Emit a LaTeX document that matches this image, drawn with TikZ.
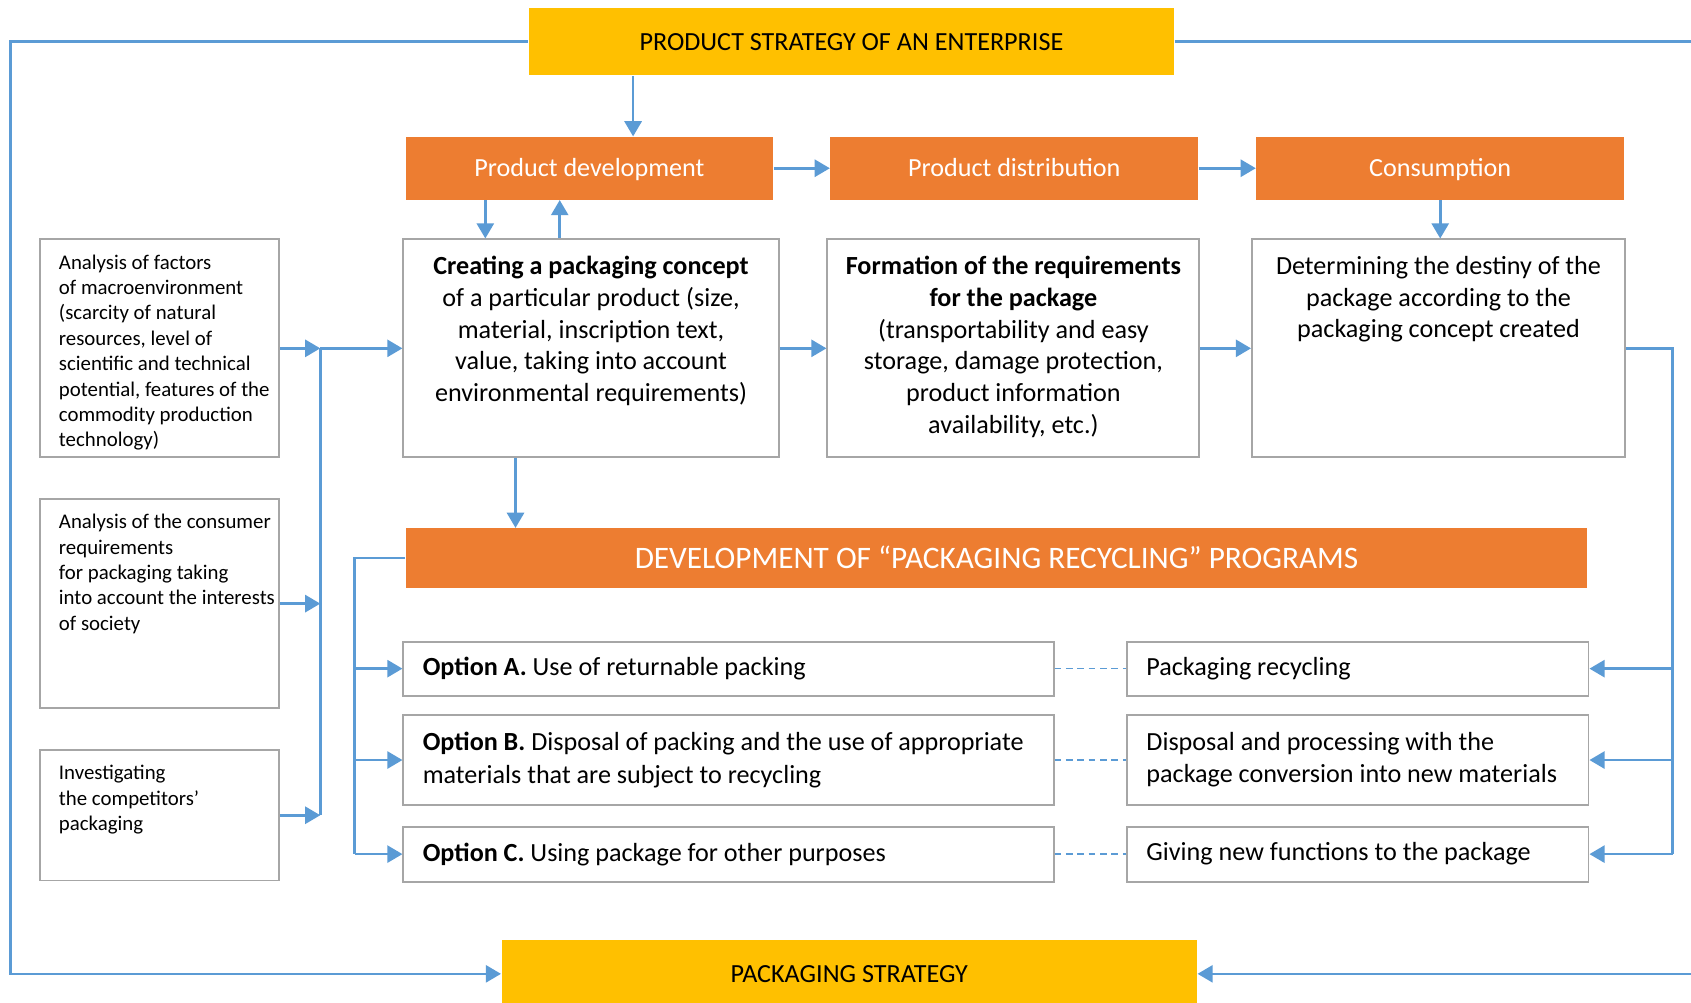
\documentclass[tikz,border=0pt]{standalone}
\usepackage{fontspec}
\setmainfont{Carlito}
\usepackage{xcolor}
\usepackage{tikz}
\usetikzlibrary{arrows.meta}
\usetikzlibrary{positioning}

\definecolor{stratyellow}{HTML}{FFC000}
\definecolor{stageorange}{HTML}{ED7D31}
\definecolor{linkblue}{HTML}{5B9BD5}
\definecolor{boxgray}{HTML}{A6A6A6}

\begin{document}
\frenchspacing
\begin{tikzpicture}[x=0.02cm,y=-0.02cm,-,semithick,node distance=1cm]
 				 \tikzstyle{strat}=[fill=stratyellow, minimum width=11.98cm, minimum height=1.26cm, text height=10.5pt, text depth=1.3pt, font=\fontsize{13.8}{16.75}\selectfont]
 				 \tikzstyle{stage}=[fill=stageorange, text=white, minimum width=6.82cm, minimum height=1.16cm, text height=10.5pt, text depth=1.3pt, font=\fontsize{13.8}{16.75}\selectfont]
 				 \tikzstyle{frame}=[draw=boxgray, line width=1pt, fill=white]
 				 \tikzstyle{bigtxt}=[inner sep=0pt, anchor=north, align=center, font=\fontsize{13.8}{16.75}\selectfont]
 				 \tikzstyle{smalltxt}=[inner sep=0pt, anchor=north west, align=flush left, font=\fontsize{11}{13.4}\selectfont]
 				 \tikzstyle{opt}=[draw=boxgray, line width=1pt, inner xsep=0.36cm, align=flush left, font=\fontsize{13.8}{17}\selectfont]
 				 \tikzstyle{link}=[draw=linkblue, line width=1.4pt]
 				 \tikzstyle{arr}=[link, -{Triangle[width=9pt,length=8pt]}]
 				 \tikzstyle{tie}=[draw=linkblue, line width=0.9pt, dash pattern=on 3.5pt off 2.5pt]

						\fill[white] (0,0) rectangle (1568,930);
						\useasboundingbox (0,0) rectangle (1568,930);

						\node[strat] (strat) at (789.5,38.5) {PRODUCT STRATEGY OF AN ENTERPRISE};
						\node[stage] (dev) at (546.5,156) {Product development};
						\node[stage] (dist) [right=1.04cm of dev] {Product distribution};
						\node[stage] (cons) [right=1.06cm of dist] {Consumption};

						\node[frame, minimum width=6.96cm, minimum height=4.04cm] (concept) at (548,323) {};
						\node[frame, minimum width=6.9cm, minimum height=4.04cm] (req) [right=0.87cm of concept] {};
						\node[frame, minimum width=6.92cm, minimum height=4.04cm] (fate) [right=0.94cm of req] {};
						\node[bigtxt] (concepttxt) at ([yshift=-0.32cm]concept.north) {\textbf{Creating a packaging concept}\\of a particular product (size,\\material, inscription text,\\value, taking into account\\environmental requirements)};
						\node[bigtxt] (reqtxt) at ([yshift=-0.32cm]req.north) {\textbf{Formation of the requirements}\\\textbf{for the package}\\(transportability and easy\\storage, damage protection,\\product information\\availability, etc.)};
						\node[bigtxt] (fatetxt) at ([yshift=-0.32cm]fate.north) {Determining the destiny of the\\package according to the\\packaging concept created};

						\node[frame, minimum width=4.44cm, minimum height=4.04cm] (info1) at (148,323) {};
						\node[frame, minimum width=4.44cm, minimum height=3.88cm] (info2) [below=0.74cm of info1] {};
						\node[frame, minimum width=4.44cm, minimum height=2.42cm] (info3) [below=0.74cm of info2] {};
						\node[smalltxt] (info1txt) at ([xshift=0.36cm,yshift=-0.29cm]info1.north west) {Analysis of factors\\of macroenvironment\\(scarcity of natural\\resources, level of\\scientific and technical\\potential, features of the\\commodity production\\technology)};
						\node[smalltxt] (info2txt) at ([xshift=0.36cm,yshift=-0.29cm]info2.north west) {Analysis of the consumer\\requirements\\for packaging taking\\into account the interests\\of society};
						\node[smalltxt] (info3txt) at ([xshift=0.36cm,yshift=-0.29cm]info3.north west) {Investigating\\the competitors’\\packaging};

						\node[stage, minimum width=21.92cm, minimum height=1.1cm, text height=11.8pt, text depth=1.2pt, font=\fontsize{16.5}{20}\selectfont] (recyc) at (924,517.5) {DEVELOPMENT OF “PACKAGING RECYCLING” PROGRAMS};

						\node[opt, text width=11.34cm, minimum height=1cm] (optA) at (675.5,620) {\textbf{Option A.} Use of returnable packing};
						\node[opt, text width=11.34cm, minimum height=1.68cm] (optB) [below=0.32cm of optA] {\textbf{Option B.} Disposal of packing and the use of appropriate\\materials that are subject to recycling};
						\node[opt, text width=11.34cm, minimum height=1.02cm] (optC) [below=0.36cm of optB] {\textbf{Option C.} Using package for other purposes};
						\node[opt, text width=7.84cm, minimum height=1cm] (resA) at (1259,620) {Packaging recycling};
						\node[opt, text width=7.84cm, minimum height=1.68cm] (resB) [below=0.32cm of resA] {Disposal and processing with the\\package conversion into new materials};
						\node[opt, text width=7.84cm, minimum height=1.02cm] (resC) [below=0.36cm of resB] {Giving new functions to the package};

						\node[strat, minimum width=12.9cm, minimum height=1.24cm] (pack) at (787.5,903) {PACKAGING STRATEGY};

						\coordinate (inbus) at (297,323);
						\coordinate (optbus) at (329,517.5);
						\coordinate (resbus) at (1551,323);

						\draw[arr] ([xshift=-4.05cm]strat.south) -- ([xshift=-4.05cm]strat.south |- dev.north);
						\draw[arr] ([xshift=-1.93cm]dev.south) -- ([xshift=-1.93cm]dev.south |- concept.north);
						\draw[arr] ([xshift=-0.55cm]dev.south |- concept.north) -- ([xshift=-0.55cm]dev.south);
						\draw[arr] (cons.south) -- (cons.south |- fate.north);
						\draw[arr] ([xshift=-1.4cm]concept.south) -- ([xshift=-1.4cm]concept.south |- recyc.north);
						\path
							(dev) edge[arr] (dist)
							(dist) edge[arr] (cons)
							(concept) edge[arr] (req)
							(req) edge[arr] (fate);

						\draw[arr] (info1.east) -- (inbus);
						\draw[arr] (inbus) -- (concept.west);
						\draw[link] (inbus) -- (inbus |- info3.east);
						\draw[arr] (info2.east) -- (info2.east -| inbus);
						\draw[arr] (info3.east) -- (info3.east -| inbus);

						\draw[link] (recyc.west) -- (optbus) -- (optbus |- optC.west);
						\draw[arr] (optbus |- optA.west) -- (optA.west);
						\draw[arr] (optbus |- optB.west) -- (optB.west);
						\draw[arr] (optbus |- optC.west) -- (optC.west);

						\draw[link] (fate.east) -- (resbus) -- (resbus |- resC.east);
						\draw[arr] (resbus |- resA.east) -- (resA.east);
						\draw[arr] (resbus |- resB.east) -- (resB.east);
						\draw[arr] (resbus |- resC.east) -- (resC.east);

						\draw[tie] (optA.east) -- (resA.west);
						\draw[tie] (optB.east) -- (resB.west);
						\draw[tie] (optC.east) -- (resC.west);

						\draw[arr] (strat.west) -- ++(-480,0) |- (pack.west);
						\draw[arr] (strat.east) -- ++(490,0) |- (pack.east);
 				\end{tikzpicture}
\end{document}
